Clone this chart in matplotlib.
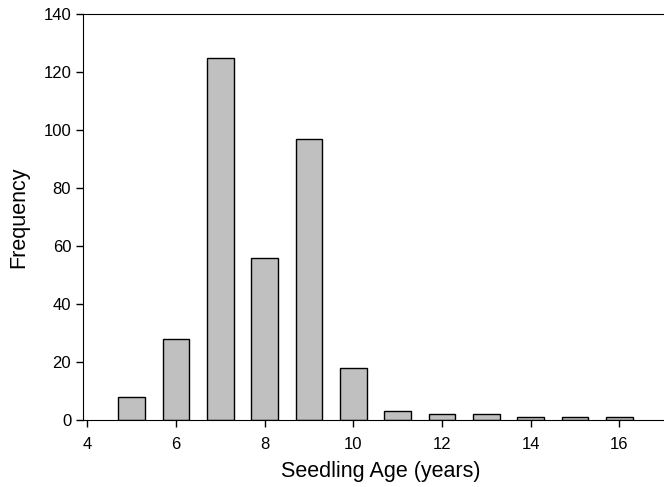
import matplotlib
matplotlib.use('Agg')
import matplotlib.pyplot as plt

plt.rcParams['font.family'] = ['Liberation Sans', 'DejaVu Sans']

ages = [5, 6, 7, 8, 9, 10, 11, 12, 13, 14, 15, 16]
freq = [8, 28, 125, 56, 97, 18, 3, 2, 2, 1, 1, 1]

fig = plt.figure(figsize=(6.64, 4.87), dpi=100)
# axes runs a little past the right edge of the figure, as in the original
ax = fig.add_axes([0.125, 0.1376, 0.898, 0.8334])

ax.bar(ages, freq, width=0.6, color='#c0c0c0', edgecolor='black', linewidth=1)

ax.set_xlim(3.9, 17.35)
ax.set_ylim(0, 140)
ax.set_xticks([4, 6, 8, 10, 12, 14, 16])
ax.set_yticks(range(0, 141, 20))
ax.spines['right'].set_visible(False)
ax.tick_params(labelsize=12, length=5, width=1)
ax.tick_params(axis='x', pad=7)
ax.set_xlabel('Seedling Age (years)', fontsize=15.5, labelpad=7)
ax.set_ylabel('Frequency', fontsize=15.5, labelpad=10)

plt.savefig('out.png', dpi=100)
